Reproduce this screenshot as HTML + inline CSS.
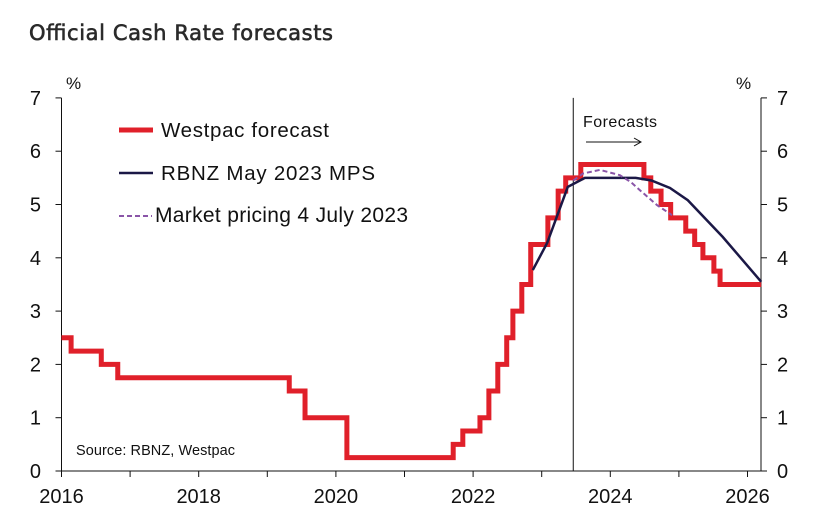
<!DOCTYPE html>
<html><head><meta charset="utf-8">
<style>
html,body{margin:0;padding:0;background:#fff;width:814px;height:530px;overflow:hidden}
svg{display:block;font-family:"Liberation Sans",Arial,sans-serif}
</style></head>
<body>
<svg id="chart" width="814" height="530" viewBox="0 0 814 530" xmlns="http://www.w3.org/2000/svg">
<text x="29" y="40" font-size="21" fill="#2a2a2a" stroke="#2a2a2a" stroke-width="0.6" font-family="'DejaVu Sans','Liberation Sans',sans-serif" textLength="304">Official Cash Rate forecasts</text>
<g id="axes"></g>
<g id="series"></g>
<g>
<line x1="119" y1="130" x2="153" y2="130" stroke="#e0202a" stroke-width="5"/>
<text x="161" y="137" font-size="20.5" fill="#111" textLength="168">Westpac forecast</text>
<line x1="119" y1="173" x2="153" y2="173" stroke="#1b1846" stroke-width="2.5"/>
<text x="161" y="180" font-size="20.5" fill="#111" textLength="214">RBNZ May 2023 MPS</text>
<line x1="119" y1="216" x2="152" y2="216" stroke="#8a55a8" stroke-width="2" stroke-dasharray="5,3"/>
<text x="155" y="222" font-size="21" fill="#111" textLength="253">Market pricing 4 July 2023</text>
</g>
<text x="76" y="455" font-size="14.5" fill="#111" textLength="159">Source: RBNZ, Westpac</text>
<text x="583" y="127" font-size="16" fill="#111" textLength="74">Forecasts</text>
<g stroke="#111" stroke-width="1" fill="none">
<line x1="586" y1="142" x2="641" y2="142"/>
<polyline points="634,138 641,142 634,146"/>
</g>
</svg>
<script>
const yTicks = [0,1,2,3,4,5,6,7];
const xTickYears = [2016,2017,2018,2019,2020,2021,2022,2023,2024,2025,2026];
const xLabelYears = [2016,2018,2020,2022,2024,2026];
const westpacDates = [2016.0,2016.14,2016.58,2016.82,2019.32,2019.55,2020.16,2021.71,2021.85,2022.10,2022.23,2022.36,2022.49,2022.58,2022.71,2022.84,2023.09,2023.24,2023.35,2023.57,2024.49,2024.59,2024.74,2024.88,2025.10,2025.23,2025.35,2025.51,2025.60,2026.2];
const westpacValues = [2.5,2.25,2.0,1.75,1.5,1.0,0.25,0.5,0.75,1.0,1.5,2.0,2.5,3.0,3.5,4.25,4.75,5.25,5.5,5.75,5.5,5.25,5.0,4.75,4.5,4.25,4.0,3.75,3.5,3.5];
const rbnzDates = [2022.87,2023.08,2023.38,2023.63,2024.37,2024.6,2024.87,2025.13,2025.64,2026.2];
const rbnzValues = [3.77,4.28,5.33,5.5,5.5,5.45,5.31,5.08,4.39,3.55];
const marketDates = [2023.46,2023.6,2023.85,2024.14,2024.3,2024.43,2024.68,2024.9];
const marketValues = [5.45,5.58,5.65,5.55,5.42,5.27,4.99,4.8];
const forecastStart = 2023.46;

const X0=61.5, PX_PER_YEAR=68.6, Y0=471, PX_PER_UNIT=53.3, XR=761;
const xs = d => X0 + (d-2016)*PX_PER_YEAR;
const ys = v => Y0 - v*PX_PER_UNIT;
const NS="http://www.w3.org/2000/svg";
function mk(tag, attrs, parent){const e=document.createElementNS(NS,tag);for(const k in attrs)e.setAttribute(k,attrs[k]);parent.appendChild(e);return e;}
const axes=document.getElementById('axes'), series=document.getElementById('series');

let e;
e=mk('line',{x1:X0,y1:ys(7),x2:X0,y2:Y0,stroke:'#111','stroke-width':1},axes);


e=mk('line',{x1:XR,y1:ys(7),x2:XR,y2:Y0,stroke:'#111','stroke-width':1},axes);


e=mk('line',{x1:X0,y1:Y0,x2:XR+6,y2:Y0,stroke:'#111','stroke-width':1},axes);


yTicks.forEach(v=>{
  const y=ys(v);
  let t=mk('line',{x1:X0-6,y1:y,x2:X0,y2:y,stroke:'#111'},axes);
  
  
  t=mk('line',{x1:XR,y1:y,x2:XR+6,y2:y,stroke:'#111'},axes);
  
  
  let l=mk('text',{x:41,y:y+7,'font-size':20,fill:'#111','text-anchor':'end'},axes);l.textContent=v;
  
  
  l=mk('text',{x:777,y:y+7,'font-size':20,fill:'#111'},axes);l.textContent=v;
  
  
});
let p=mk('text',{x:66,y:89,'font-size':17,fill:'#111'},axes);p.textContent='%';


p=mk('text',{x:736,y:89,'font-size':17,fill:'#111'},axes);p.textContent='%';


xTickYears.forEach(yr=>{
  const t=mk('line',{x1:xs(yr),y1:Y0,x2:xs(yr),y2:Y0+6,stroke:'#111'},axes);
  
  
});
xLabelYears.forEach(yr=>{
  const l=mk('text',{x:xs(yr),y:Y0+32,'font-size':20,fill:'#111','text-anchor':'middle'},axes);l.textContent=yr;
  
  
});
e=mk('line',{x1:xs(forecastStart),y1:ys(7),x2:xs(forecastStart),y2:Y0,stroke:'#111','stroke-width':1},axes);



let d='';
for(let i=0;i<westpacDates.length;i++){
  const x=xs(westpacDates[i]);
  if(i===0) d+='M'+x+','+ys(westpacValues[0]);
  else d+=' H'+x+' V'+ys(westpacValues[i]);
}
e=mk('path',{d:d,fill:'none',stroke:'#e0202a','stroke-width':5,'stroke-linejoin':'miter'},series);


e=mk('polyline',{points:rbnzDates.map((t,i)=>xs(t)+','+ys(rbnzValues[i])).join(' '),fill:'none',stroke:'#1b1846','stroke-width':2.5},series);


e=mk('polyline',{points:marketDates.map((t,i)=>xs(t)+','+ys(marketValues[i])).join(' '),fill:'none',stroke:'#8a55a8','stroke-width':2,'stroke-dasharray':'5,3'},series);


</script>
</body></html>
